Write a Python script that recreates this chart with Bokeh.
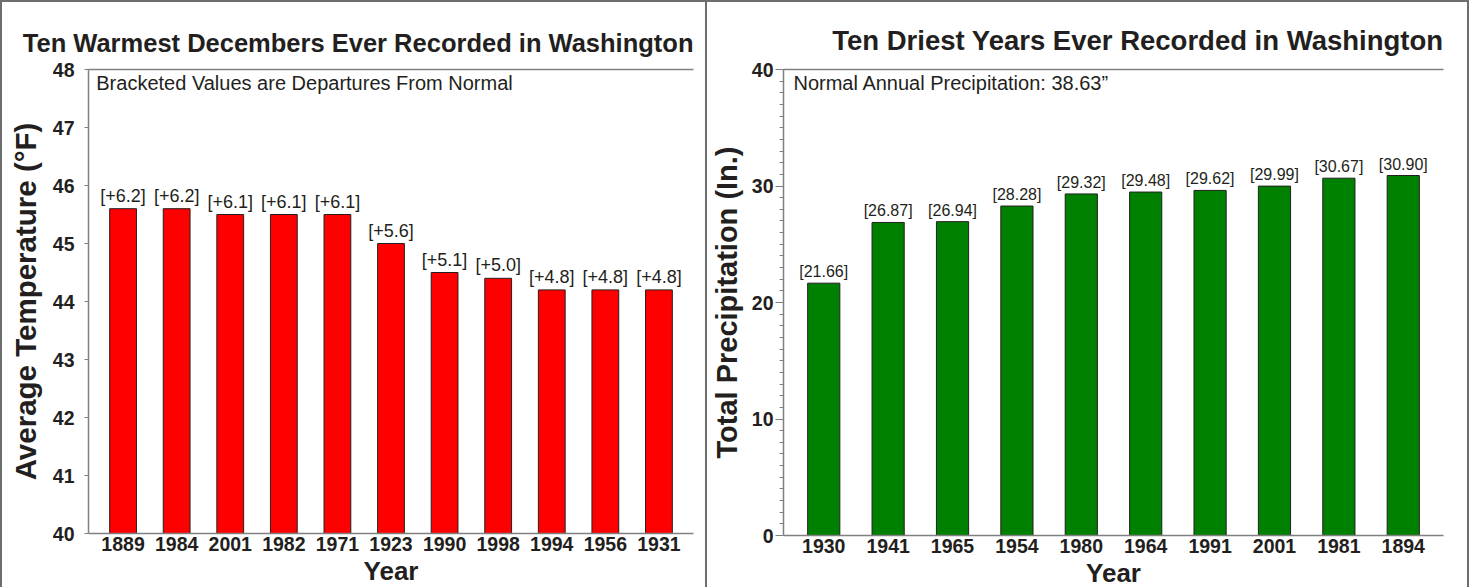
from bokeh.plotting import figure
from bokeh.models import FactorRange, Range1d, SingleIntervalTicker, FixedTicker, LinearAxis, Label
from bokeh.layouts import row
from bokeh.core.properties import value
from bokeh.embed import file_html
from bokeh.resources import INLINE

# ---- data ----
warm_years = ["1889", "1984", "2001", "1982", "1971", "1923", "1990", "1998", "1994", "1956", "1931"]
warm_temps = [45.6, 45.6, 45.5, 45.5, 45.5, 45.0, 44.5, 44.4, 44.2, 44.2, 44.2]
warm_departures = ["+6.2", "+6.2", "+6.1", "+6.1", "+6.1", "+5.6", "+5.1", "+5.0", "+4.8", "+4.8", "+4.8"]

dry_years = ["1930", "1941", "1965", "1954", "1980", "1964", "1991", "2001", "1981", "1894"]
dry_precip = [21.66, 26.87, 26.94, 28.28, 29.32, 29.48, 29.62, 29.99, 30.67, 30.90]

TXT = "#231f20"
AX = "#808080"
SANS = "Liberation Sans, Arial"


def style_fig(p, title_size):
    p.title.text_font = SANS
    p.title.text_font_size = title_size
    p.title.text_font_style = "bold"
    p.title.text_color = TXT
    p.title.align = "right"
    p.title.text_line_height = 0.27
    p.outline_line_color = None
    p.xgrid.visible = False
    p.ygrid.visible = False
    p.background_fill_color = "white"
    p.border_fill_color = "white"
    xa = p.below[0]
    xa.axis_line_color = AX
    xa.axis_line_width = 1.5
    xa.major_tick_line_color = None
    xa.minor_tick_line_color = None
    xa.major_tick_out = 0
    xa.major_label_text_font = SANS
    xa.major_label_text_font_style = "bold"
    xa.major_label_text_font_size = "19.5px"
    xa.major_label_text_color = TXT
    xa.major_label_standoff = 3
    xa.axis_label = "Year"
    xa.axis_label_text_font = SANS
    xa.axis_label_text_font_style = "bold"
    xa.axis_label_text_font_size = "26px"
    xa.axis_label_text_color = TXT
    xa.axis_label_standoff = 2
    ya = p.left[0]
    ya.axis_line_color = AX
    ya.axis_line_width = 1.5
    ya.major_tick_line_color = AX
    ya.minor_tick_line_color = AX
    ya.major_tick_in = 0
    ya.minor_tick_in = 0
    ya.major_label_text_font = SANS
    ya.major_label_text_font_style = "bold"
    ya.major_label_text_font_size = "19.5px"
    ya.major_label_text_color = TXT
    ya.axis_label_text_font = SANS
    ya.axis_label_text_font_style = "bold"
    ya.axis_label_text_color = TXT
    # top line of the frame
    top = LinearAxis(ticker=FixedTicker(ticks=[]), axis_line_color=AX, axis_line_width=1.5,
                     major_label_text_font_size="0px", major_tick_line_color=None,
                     minor_tick_line_color=None, major_tick_out=0, major_tick_in=0,
                     major_label_standoff=0)
    p.add_layout(top, "above")


# ---- left chart ----
p1 = figure(width=707, height=592,
            x_range=FactorRange(factors=warm_years, range_padding=0.145, range_padding_units="absolute"),
            y_range=Range1d(40, 48),
            title="Ten Warmest Decembers Ever Recorded in Washington\n",
            output_backend="svg", toolbar_location=None,
            min_border_left=86, min_border_right=16, min_border_top=67, min_border_bottom=61)
style_fig(p1, "25.5px")
p1.left[0].ticker = SingleIntervalTicker(interval=1, num_minor_ticks=0)
p1.left[0].major_tick_out = 4
p1.left[0].major_label_standoff = 10
p1.left[0].axis_label = "Average Temperature (°F)"
p1.left[0].axis_label_text_font_size = "29.5px"
p1.left[0].axis_label_standoff = 8

p1.vbar(x=warm_years, top=warm_temps, bottom=40, width=0.5,
        fill_color="#ff0000", line_color="#231f20", line_width=1)
p1.text(x=warm_years, y=warm_temps, text=["[" + d + "]" for d in warm_departures],
        text_align="center", text_baseline="bottom", y_offset=-3,
        text_font=value(SANS), text_font_size="18px", text_color=TXT)
p1.add_layout(Label(x=0.0, y=47.96, text="Bracketed Values are Departures From Normal",
                    text_baseline="top", text_font=SANS, text_font_size="20px", text_color=TXT))

# ---- right chart ----
p2 = figure(width=762, height=594,
            x_range=FactorRange(factors=dry_years, range_padding=0.125, range_padding_units="absolute"),
            y_range=Range1d(0, 40),
            title="Ten Driest Years Ever Recorded in Washington\n",
            output_backend="svg", toolbar_location=None,
            min_border_left=68, min_border_right=26, min_border_top=65, min_border_bottom=59)
style_fig(p2, "27.5px")
p2.left[0].ticker = SingleIntervalTicker(interval=10, num_minor_ticks=10)
p2.left[0].major_tick_out = 8
p2.left[0].minor_tick_out = 4
p2.left[0].major_label_standoff = 2
p2.left[0].axis_label = "Total Precipitation (In.)"
p2.left[0].axis_label_text_font_size = "29px"
p2.left[0].axis_label_standoff = 6

p2.vbar(x=dry_years, top=dry_precip, bottom=0, width=0.5,
        fill_color="#008000", line_color="#231f20", line_width=1)
p2.text(x=dry_years, y=dry_precip, text=["[%.2f]" % v for v in dry_precip],
        text_align="center", text_baseline="bottom", y_offset=-3,
        text_font=value(SANS), text_font_size="16px", text_color=TXT)
p2.add_layout(Label(x=0.03, y=39.8, text="Normal Annual Precipitation: 38.63\u201d",
                    text_baseline="top", text_font=SANS, text_font_size="20px", text_color=TXT))

p1.styles = {"border-top": "2px solid #6d6d6d", "border-left": "2px solid #6d6d6d",
             "border-right": "2px solid #6d6d6d"}
p2.styles = {"border-top": "2px solid #6d6d6d", "border-right": "2px solid #6d6d6d"}

layout = row(p1, p2)
open("out.html", "w").write(file_html(layout, INLINE))
